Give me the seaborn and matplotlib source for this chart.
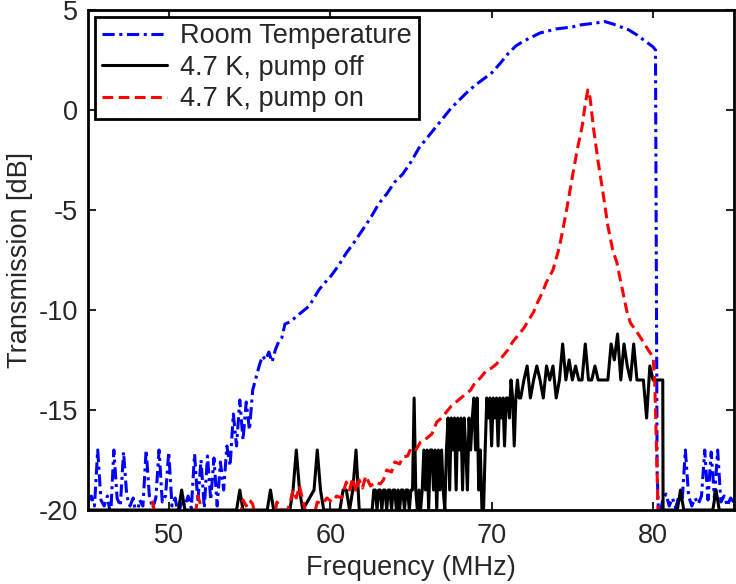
import pandas as pd
import seaborn as sns
import matplotlib.pyplot as plt

# room temperature trace (blue)
rt_freq = [45.0, 45.2, 45.4, 45.6, 45.8, 46.0, 46.2, 46.4, 46.6, 46.8, 47.0, 47.2, 47.4, 47.6, 47.8,
           48.0, 48.2, 48.4, 48.6, 48.8, 49.0, 49.2, 49.4, 49.6, 49.8, 50.0, 50.2, 50.4, 50.6, 50.8,
           51.0, 51.2, 51.4, 51.6, 51.8, 52.0, 52.2, 52.4, 52.6, 52.8, 53.0, 53.2, 53.4, 53.6, 53.8,
           54.0, 54.2, 54.4, 54.6, 54.8, 55.0, 55.2, 55.4, 55.6, 55.8, 56.0, 56.2, 56.4, 56.6, 56.8,
           57.0, 57.2, 57.5, 57.8, 58.1, 58.4, 58.7, 59.0, 59.3, 59.6, 60.0, 60.5, 61.0, 61.5, 62.0,
           62.5, 63.0, 63.5, 64.0, 64.5, 65.0, 65.5, 66.0, 66.5, 67.0, 67.5, 68.0, 68.5, 69.0, 69.5,
           70.0, 70.5, 71.0, 71.5, 72.0, 72.5, 73.0, 73.5, 74.0, 74.5, 75.0, 75.5, 76.0, 76.5, 77.0,
           77.5, 78.0, 78.5, 79.0, 79.5, 80.0, 80.15, 80.25, 80.35,
           80.6, 80.8, 81.0, 81.2, 81.4, 81.6, 81.8, 82.0, 82.2, 82.4, 82.6, 82.8, 83.0, 83.2, 83.4,
           83.6, 83.8, 84.0, 84.2, 84.4, 84.6, 84.8, 85.0]
rt_db = [-19.6, -19.3, -19.8, -17.0, -19.5, -19.8, -19.3, -20.3, -17.0, -19.4, -19.8, -17.1, -19.3, -19.8, -19.4,
         -20.4, -19.5, -19.8, -17.0, -19.3, -19.9, -19.4, -17.0, -19.6, -19.3, -17.1, -19.8, -19.4, -20.3, -19.5,
         -19.8, -19.3, -19.9, -17.2, -19.6, -17.5, -19.9, -17.3, -19.5, -17.4, -19.8, -17.6, -19.0, -16.8, -17.8,
         -15.2, -16.8, -14.5, -16.5, -14.6, -16.0, -14.0, -13.4, -12.8, -12.3, -12.5, -12.1, -12.6, -12.0, -11.6,
         -11.4, -10.7, -10.6, -10.4, -10.2, -10.0, -9.8, -9.4, -9.0, -8.7, -8.35, -7.8, -7.15, -6.6, -6.0,
         -5.4, -4.7, -4.2, -3.6, -3.2, -2.6, -1.9, -1.4, -0.9, -0.4, 0.1, 0.5, 0.9, 1.25, 1.55,
         1.85, 2.3, 2.8, 3.2, 3.45, 3.65, 3.85, 3.95, 4.05, 4.1, 4.15, 4.25, 4.3, 4.35, 4.42,
         4.3, 4.15, 4.0, 3.75, 3.45, 3.15, 3.0, -18.0, -20.5,
         -19.5, -19.2, -19.8, -19.4, -19.9, -19.3, -19.6, -17.0, -19.3, -19.8, -19.4, -19.7, -19.3, -17.0, -19.5,
         -17.1, -19.4, -17.0, -19.6, -19.3, -19.8, -19.4, -19.6]

# 4.7 K, pump off (black)
off_freq = [45.0, 50.6, 50.8, 51.0, 54.2, 54.4, 54.6, 56.1, 56.3, 56.5, 57.5, 57.7, 57.9, 58.1, 58.3,
            59.0, 59.2, 59.4, 59.6, 60.6, 60.8, 61.0, 61.2, 61.4, 61.6, 61.8, 62.6,
            62.7, 62.8, 62.9, 63.0, 63.1, 63.2, 63.3, 63.4, 63.5, 63.6, 63.7, 63.8, 63.9, 64.0, 64.1,
            64.2, 64.3, 64.4, 64.5, 64.6, 64.7, 64.8, 64.9, 65.0, 65.1, 65.2, 65.3, 65.4, 65.5, 65.6,
            65.7, 65.8, 65.9, 66.0, 66.1, 66.2, 66.3, 66.4, 66.5, 66.6, 66.7, 66.8, 66.9, 67.0, 67.1,
            67.2, 67.3, 67.4, 67.5, 67.6, 67.7, 67.8, 67.9, 68.0, 68.1, 68.2, 68.3, 68.4, 68.5, 68.6,
            68.7, 68.8, 68.9, 69.0, 69.1, 69.2, 69.3, 69.4, 69.5, 69.6, 69.7, 69.8, 69.9, 70.0, 70.1,
            70.2, 70.3, 70.4, 70.5, 70.6, 70.7, 70.8, 70.9, 71.0, 71.1, 71.2, 71.3, 71.4, 71.5, 71.6,
            71.7, 71.8, 72.0, 72.2, 72.4, 72.6, 72.8, 73.0, 73.2, 73.4, 73.6, 73.8, 74.0, 74.2, 74.4,
            74.6, 74.8, 75.0, 75.2, 75.4, 75.6, 75.8, 76.0, 76.2, 76.4, 76.6, 76.8, 77.0, 77.2, 77.4,
            77.6, 77.8, 78.0, 78.2, 78.4, 78.6, 78.8, 79.0, 79.2, 79.4, 79.6, 79.8, 80.0, 80.6, 80.62,
            81.5, 81.7, 81.9, 83.7, 83.9, 84.1, 85.0]
off_db = [-20, -20, -19, -20, -20, -19, -20, -20, -19, -20, -20, -19, -17, -19, -20,
          -19, -17, -19, -20, -20, -19, -19, -20, -19, -17, -20, -20,
          -19, -19, -20, -19, -19, -20, -19, -19, -20, -19, -19, -20, -19, -19, -20,
          -19, -20, -19, -19, -20, -19, -19, -20, -19, -19, -14.4, -19, -20, -19, -20,
          -19, -17, -19, -17, -20, -17, -17, -19, -17, -20, -17, -19, -17, -19, -20,
          -17, -15.4, -19, -15.4, -17, -15.4, -19, -15.4, -17, -15.4, -19, -15.4, -17, -19, -15.4,
          -17, -15.4, -14.4, -17, -14.4, -19, -17, -20, -20, -17, -14.4, -15.4, -14.4, -16.8, -14.4,
          -15.4, -14.4, -16.8, -14.4, -15.4, -14.4, -16.8, -14.4, -14.4, -15.4, -13.5, -14.4, -16.8, -14.4, -13.5,
          -14.4, -14.4, -13.5, -12.8, -14.4, -13.5, -12.8, -13.5, -14.4, -12.8, -13.5, -12.8, -14.4, -13.5, -11.7,
          -13.5, -12.5, -13.5, -12.8, -13.5, -13.5, -11.7, -13.5, -13.5, -12.8, -13.5, -13.5, -13.5, -13.5, -11.7,
          -12.5, -11.2, -13.5, -11.7, -12.8, -13.5, -11.7, -13.5, -13.5, -13.5, -15.4, -12.8, -13.5, -13.5, -20,
          -20, -19, -20, -20, -19, -20, -20]

# 4.7 K, pump on (red)
on_freq = [48.8, 49.0, 49.2, 51.6, 51.8, 52.0, 52.2, 54.4, 54.6, 54.8, 55.0, 55.2, 55.4, 56.5, 56.7,
           56.9, 57.1, 57.5, 57.7, 57.9, 58.1, 58.3, 58.6, 59.0, 59.2, 59.5, 59.8, 60.1, 60.4, 60.7,
           61.0, 61.2, 61.4, 61.6, 61.8, 62.0, 62.2, 62.5, 62.8, 63.1, 63.3, 63.5, 63.8, 64.0, 64.3,
           64.5, 64.8, 65.0, 65.3, 65.6, 66.0, 66.3, 66.6, 66.9, 67.2, 67.5, 67.8, 68.1, 68.4, 68.7,
           69.0, 69.3, 69.7, 70.0, 70.3, 70.6, 71.0, 71.3, 71.6, 72.0, 72.3, 72.6, 72.8, 73.1, 73.4,
           73.8, 74.2, 74.6, 75.0, 75.3, 75.6, 75.8, 75.96, 76.1, 76.3, 76.6, 76.9, 77.2, 77.5, 77.75,
           78.0, 78.4, 78.6, 79.0, 79.4, 79.7, 80.0, 80.1, 80.2, 80.3, 80.35]
on_db = [-20.5, -19.6, -20.5, -20.5, -19.3, -19.8, -20.5, -20.5, -19.5, -19.8, -19.5, -19.7, -20.5, -20.5, -19.6,
         -19.8, -20.5, -19.7, -19.0, -19.4, -18.8, -19.5, -20.5, -20.3, -19.6, -19.7, -19.4, -19.6, -19.3, -19.4,
         -18.6, -19.0, -18.4, -19.1, -18.5, -18.9, -18.3, -18.8, -18.6, -18.7, -18.5, -18.0, -18.1, -17.6, -17.7,
         -17.35, -17.3, -16.9, -17.0, -16.6, -16.4, -16.2, -15.6, -15.4, -15.1, -14.8, -14.6, -14.4, -14.2, -14.0,
         -13.6, -13.4, -13.0, -12.9, -12.7, -12.4, -12.0, -11.6, -11.3, -10.9, -10.5, -10.1, -9.7, -9.2, -8.6,
         -8.0, -6.85, -5.2, -3.35, -2.0, -0.85, 0.3, 1.0, 0.6, -0.85, -2.6, -4.15, -5.8, -7.0, -7.6,
         -8.6, -10.15, -10.65, -11.1, -11.6, -12.0, -12.35, -13.5, -16.5, -19.8, -21.0]

labels = ['Room Temperature', '4.7 K, pump off', '4.7 K, pump on']

df = pd.concat([
    pd.DataFrame({'freq': rt_freq, 'db': rt_db, 'trace': labels[0]}),
    pd.DataFrame({'freq': off_freq, 'db': off_db, 'trace': labels[1]}),
    pd.DataFrame({'freq': on_freq, 'db': on_db, 'trace': labels[2]}),
], ignore_index=True)

sns.set_style('ticks')
plt.rcParams['font.family'] = ['Liberation Sans', 'DejaVu Sans']
plt.rcParams['axes.unicode_minus'] = False

fig = plt.figure(figsize=(7.36, 5.84), dpi=100)
ax = fig.add_axes([0.1196, 0.1267, 0.8774, 0.8563])

palette = {labels[0]: '#0000ff', labels[1]: 'black', labels[2]: '#ff0000'}
dashes = {labels[0]: (4, 1.5, 1, 1.5), labels[1]: '', labels[2]: (3.5, 1.8)}

sns.lineplot(data=df, x='freq', y='db', hue='trace', style='trace', palette=palette,
             dashes=dashes, estimator=None, sort=False, linewidth=2.2, ax=ax)

fs = 19.5
ax.set_xlim(45, 85)
ax.set_ylim(-20, 5)
ax.set_xticks([50, 60, 70, 80])
ax.set_yticks([-20, -15, -10, -5, 0, 5])
ax.set_xlabel('Frequency (MHz)', fontsize=fs, labelpad=5)
ax.set_ylabel('Transmission [dB]', fontsize=fs, labelpad=4)
ax.tick_params(direction='in', top=True, right=True, length=6, width=1.5, labelsize=fs)
ax.tick_params(axis='x', pad=9)
ax.tick_params(axis='y', pad=7)
for sp in ax.spines.values():
    sp.set_linewidth(2)
    sp.set_color('black')

leg = ax.legend(loc='upper left', bbox_to_anchor=(0.0, 1.0), fontsize=fs, frameon=True,
                fancybox=False, borderaxespad=0.25, handlelength=2.4, handletextpad=0.5,
                labelspacing=0.2, borderpad=0.25)
leg.get_frame().set_edgecolor('black')
leg.get_frame().set_linewidth(2)
leg.get_frame().set_alpha(1)

plt.savefig('out.png', dpi=100)
